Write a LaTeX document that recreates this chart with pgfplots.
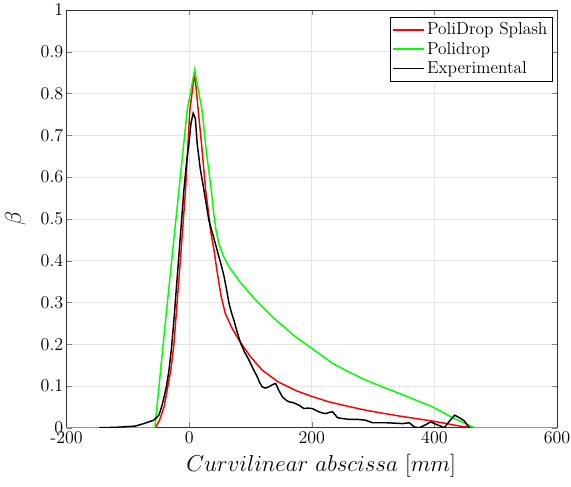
\documentclass[border=0pt]{standalone}
\usepackage{pgfplots}
\pgfplotsset{compat=1.18}
\begin{document}
\begin{tikzpicture}
\begin{axis}[
  scale only axis,
  width=368pt, height=313.5pt,
  xmin=-200, xmax=600, ymin=0, ymax=1,
  xtick={-200,0,200,400,600},
  xticklabels={-200,0,200,400,600},
  ytick={0,0.1,0.2,0.3,0.4,0.5,0.6,0.7,0.8,0.9,1},
  yticklabels={0,0.1,0.2,0.3,0.4,0.5,0.6,0.7,0.8,0.9,1},
  tick label style={font=\fontsize{13.5pt}{16pt}\selectfont},
  xticklabel style={yshift=1pt},
  yticklabel style={xshift=1pt},
  tick align=inside,
  tick pos=both,
  major tick length=4pt,
  grid=major,
  major grid style={gray!20, line width=0.5pt},
  axis line style={line width=0.5pt, black!80},
  xlabel={$Curvilinear\ abscissa\ [mm]$},
  ylabel={$\beta$},
  xlabel style={font=\LARGE, yshift=-1pt, xshift=7pt},
  ylabel style={font=\LARGE, yshift=4.5pt},
  legend style={at={(0.992,0.983)}, anchor=north east, draw=black, line width=0.5pt, font=\fontsize{13pt}{15pt}\selectfont, row sep=0pt, inner sep=2pt, cells={anchor=west}},
  legend cell align=left,
  legend image post style={line width=1.2pt},
  legend image code/.code={\draw[#1] (0cm,0cm) -- (0.8cm,0cm);},
]
\addplot[color=red, line width=1.1pt] coordinates {
(-200,0) (-55,0) (-48,0.02) (-41,0.05) (-36,0.09) (-30,0.138) (-25,0.2) (-22,0.257) (-14,0.41) (-6,0.569) (1,0.76) (8.8,0.85)
(14.7,0.76) (20,0.68) (26.8,0.569) (29.4,0.54) (35,0.47) (40.4,0.425) (46,0.369) (52,0.315) (59,0.273) (70,0.238) (81,0.21)
(100,0.17) (119,0.138) (145,0.11) (174,0.089) (200,0.075) (228,0.062) (260,0.051) (288,0.042) (315,0.035) (343,0.028) (370,0.022) (397,0.016) (420,0.01) (441,0.004) (463,0) (600,0)
};
\addlegendentry{PoliDrop Splash}
\addplot[color=green, line width=1.1pt] coordinates {
(-200,0) (-56,0) (-38.6,0.257) (-16.8,0.569) (-3.3,0.76) (8.8,0.856)
(21,0.76) (28,0.66) (36,0.569) (40,0.513) (44,0.47) (48.5,0.44) (56,0.41) (65,0.385) (85,0.345) (108.8,0.305) (136,0.265) (174,0.217) (200,0.19) (234,0.154) (260,0.134) (288,0.114) (315,0.098) (343,0.082) (370,0.066) (397,0.05) (430,0.024) (465,0) (600,0)
};
\addlegendentry{Polidrop}
\addplot[color=black, line width=1.1pt] coordinates {
(-147,0) (-120,0.001) (-88,0.004) (-74,0.01) (-58,0.018) (-49.5,0.03) (-45,0.05) (-41,0.074) (-37,0.1) (-33,0.138) (-29,0.19) (-25,0.257) (-17,0.41) (-8.7,0.569) (-4,0.64) (-0.5,0.68) (3,0.73) (6.5,0.753) (10,0.74)
(13,0.68) (18,0.62) (24,0.569) (32,0.497) (40,0.455) (48.5,0.409) (53,0.385) (57,0.361) (61,0.33) (65,0.297) (69,0.275) (73,0.257) (78,0.23) (84,0.202) (90,0.182) (97.5,0.162) (104,0.142) (111,0.122) (115,0.108) (119,0.098) (124,0.095) (130,0.098) (137,0.104) (141,0.106) (146,0.09) (152,0.074) (158,0.066) (163,0.062) (170,0.06) (179,0.054) (187,0.046) (193,0.047) (201,0.046) (206,0.042) (212,0.038) (218,0.035) (223,0.034) (229,0.037) (234,0.038) (242,0.024) (250,0.022) (261,0.02) (275,0.02) (288,0.018) (299,0.012) (310,0.012) (321,0.012) (335,0.011) (348,0.01) (359,0.012) (367,0.002) (375,0) (384,0.006) (394,0.014) (403,0.008) (410,0.004) (416,0) (424,0.015) (433,0.03) (441,0.024) (449,0.016) (454,0.006) (457,0)
};
\addlegendentry{Experimental}
\end{axis}
\pgfresetboundingbox
\path[use as bounding box] ([shift={(-50pt,-44pt)}]current axis.south west) rectangle ([shift={(10.5pt,7.5pt)}]current axis.north east);
\end{tikzpicture}
\end{document}
